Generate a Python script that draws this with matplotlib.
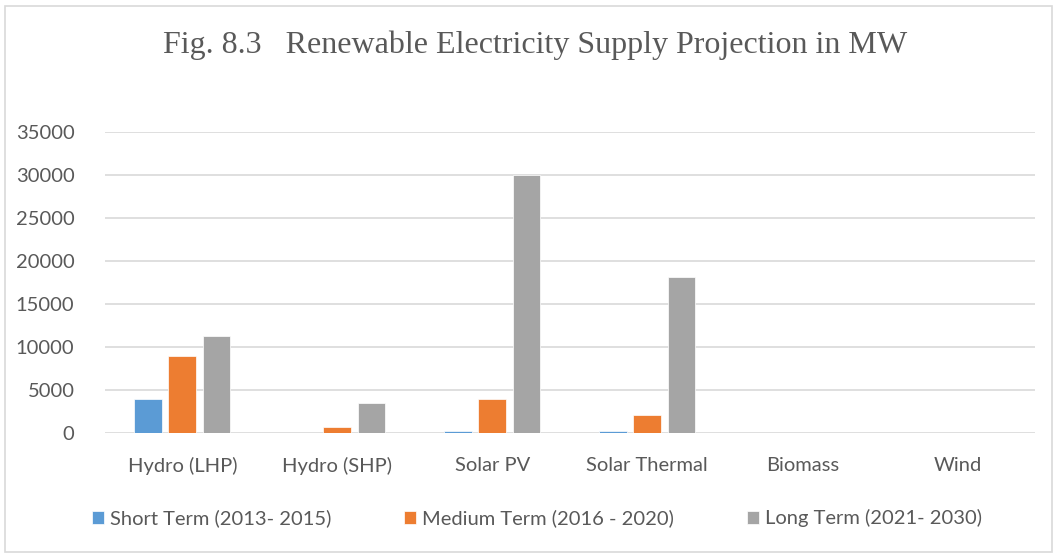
import numpy as np
import matplotlib
matplotlib.use("Agg")
from matplotlib import pyplot as plt
from matplotlib.patches import Rectangle

categories = ["Hydro (LHP)", "Hydro (SHP)", "Solar PV", "Solar Thermal", "Biomass", "Wind"]
short_term = [4000, 0, 270, 270, 0, 0]
medium_term = [9000, 730, 4000, 2100, 0, 0]
long_term = [11250, 3500, 30000, 18100, 0, 0]
series_names = ["Short Term (2013- 2015)", "Medium Term (2016 - 2020)", "Long Term (2021- 2030)"]
yticks = [0, 5000, 10000, 15000, 20000, 25000, 30000, 35000]

colors = ["#5B9BD5", "#ED7D31", "#A5A5A5"]
txt = "#595959"

plt.rcParams['font.family'] = ['Lato', 'DejaVu Sans']

fig = plt.figure(figsize=(10.57, 5.55), dpi=100)
ax = fig.add_axes([0.0993, 0.2198, 0.8797, 0.5425])

# outer chart border
fig.patches.append(Rectangle((0.005, 0.005), 0.99, 0.985, transform=fig.transFigure,
                             fill=False, edgecolor="#D9D9D9", linewidth=1.2))

x = np.arange(len(categories))
w = 0.18
step = 0.22
for i, vals in enumerate([short_term, medium_term, long_term]):
    ax.bar(x + (i - 1) * step, vals, width=w, color=colors[i], edgecolor="white",
           linewidth=0.5, label=series_names[i], zorder=3)

ax.set_xlim(-0.5, len(categories) - 0.5)
ax.set_ylim(0, 35000)
ax.set_yticks(yticks)
ax.set_yticklabels([str(v) for v in yticks])
ax.set_xticks(x)
ax.set_xticklabels(categories)
ax.grid(axis="y", color="#D9D9D9", linewidth=1.2, zorder=0)
for s in ax.spines.values():
    s.set_visible(False)
ax.tick_params(axis="both", length=0, colors=txt, labelsize=14.5)
ax.tick_params(axis="y", pad=22)
ax.tick_params(axis="x", pad=17)

fig.text(0.506, 0.918, "Fig. 8.3   Renewable Electricity Supply Projection in MW",
         ha="center", va="center", fontsize=23, color=txt, family="Liberation Serif")

leg = ax.legend(loc="center", bbox_to_anchor=(0.508, 0.066), bbox_transform=fig.transFigure,
                ncol=3, frameon=False, fontsize=14.5, handlelength=0.6, handleheight=0.6,
                handletextpad=0.3, columnspacing=3.6)
for t in leg.get_texts():
    t.set_color(txt)

fig.savefig("out.png", dpi=100)
